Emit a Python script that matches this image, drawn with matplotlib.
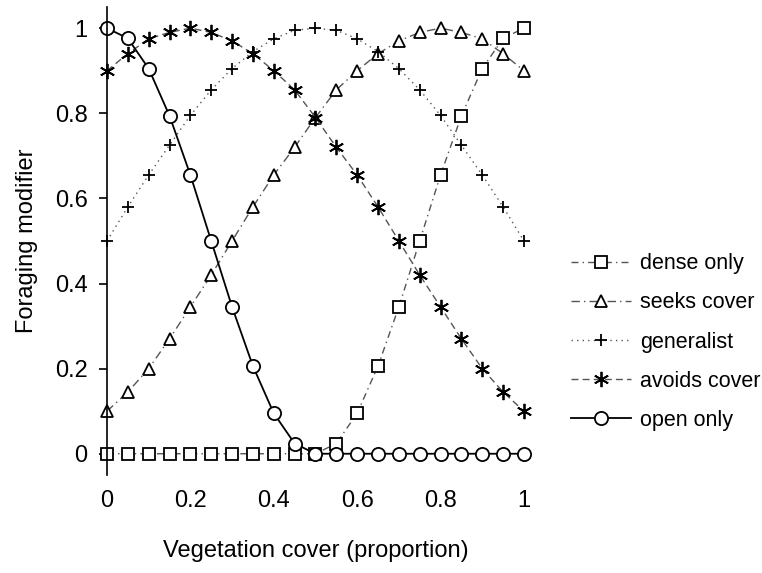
import numpy as np
import matplotlib.pyplot as plt
from matplotlib import rcParams

rcParams.update({'font.family': ['Liberation Sans', 'DejaVu Sans'], 'font.size': 17})

cover = [0, 0.05, 0.1, 0.15, 0.2, 0.25, 0.3, 0.35, 0.4, 0.45, 0.5,
         0.55, 0.6, 0.65, 0.7, 0.75, 0.8, 0.85, 0.9, 0.95, 1.0]

dense_only = [0, 0, 0, 0, 0, 0, 0, 0, 0, 0, 0,
              0.024, 0.095, 0.206, 0.345, 0.5, 0.655, 0.794, 0.905, 0.976, 1.0]
seeks_cover = [0.1, 0.145, 0.2, 0.27, 0.345, 0.42, 0.5, 0.58, 0.655, 0.72, 0.79,
               0.855, 0.9, 0.94, 0.97, 0.99, 1.0, 0.99, 0.975, 0.94, 0.9]
generalist = [0.5, 0.58, 0.655, 0.725, 0.795, 0.855, 0.905, 0.945, 0.975, 0.995, 1.0,
              0.995, 0.975, 0.945, 0.905, 0.855, 0.795, 0.725, 0.655, 0.58, 0.5]
avoids_cover = [0.9, 0.94, 0.975, 0.99, 1.0, 0.99, 0.97, 0.94, 0.9, 0.855, 0.79,
                0.72, 0.655, 0.58, 0.5, 0.42, 0.345, 0.27, 0.2, 0.145, 0.1]
open_only = [1.0, 0.976, 0.905, 0.794, 0.655, 0.5, 0.345, 0.206, 0.095, 0.024, 0,
             0, 0, 0, 0, 0, 0, 0, 0, 0, 0]

series = [
    ("dense only", dense_only, (0, (5, 3, 1, 3)), 's', 9),
    ("seeks cover", seeks_cover, (0, (6, 3, 1, 3)), '^', 9),
    ("generalist", generalist, (0, (1, 3)), '+', 9),
    ("avoids cover", avoids_cover, (0, (5, 3)), (6, 2, 0), 11),
    ("open only", open_only, '-', 'o', 9.5),
]

fig = plt.figure(figsize=(7.62, 5.73), dpi=100)
ax = fig.add_axes([0.1404, 0.171, 0.5472, 0.817])

for label, vals, ls, mk, ms in series:
    lw = 1.3 if ls == '-' else 1.0
    col = 'black' if ls == '-' else '#555555'
    ax.plot(cover, vals, linestyle=ls, color=col, linewidth=lw, marker=mk,
            markersize=ms, markerfacecolor='white', markeredgecolor='black',
            markeredgewidth=1.3, label=label, clip_on=False)

ax.set_xlim(0, 1)
ax.set_ylim(-0.05, 1.05)
ax.set_xticks([0, 0.2, 0.4, 0.6, 0.8, 1])
ax.set_xticklabels(['0', '0.2', '0.4', '0.6', '0.8', '1'])
ax.set_yticks([0, 0.2, 0.4, 0.6, 0.8, 1])
ax.set_yticklabels(['0', '0.2', '0.4', '0.6', '0.8', '1'])
for s in ['top', 'right', 'bottom']:
    ax.spines[s].set_visible(False)
ax.spines['left'].set_linewidth(1.2)
ax.tick_params(axis='x', length=0, pad=11)
ax.tick_params(axis='y', direction='out', length=6, width=1.2, pad=8)
ax.set_xlabel("Vegetation cover (proportion)", labelpad=20)
ax.set_ylabel("Foraging modifier", labelpad=12)

ax.legend(loc='center left', bbox_to_anchor=(1.066, 0.284), frameon=False,
          handlelength=2.8, handletextpad=0.4, labelspacing=0.84, fontsize=15.5)

fig.savefig("out.png", dpi=100)
plt.close(fig)
